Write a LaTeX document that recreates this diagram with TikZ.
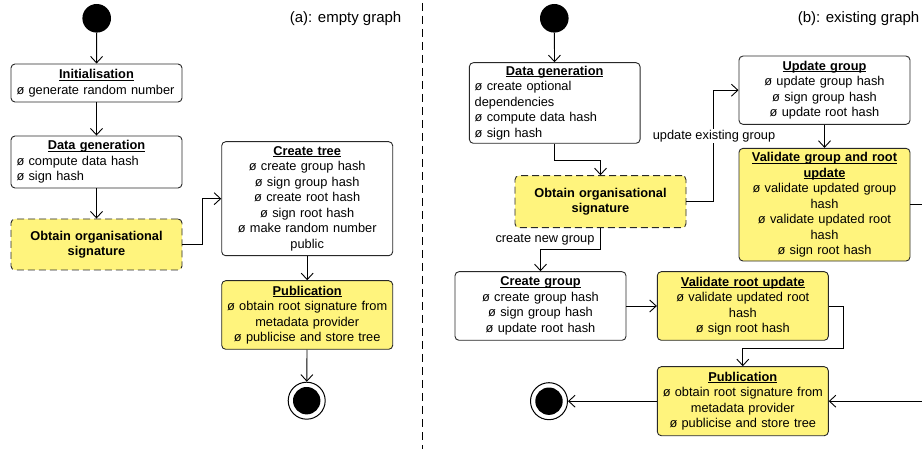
\documentclass[tikz,border=0pt]{standalone}
\usepackage{fontspec}
\setmainfont{Liberation Sans}
\usetikzlibrary{arrows.meta,calc}
\definecolor{yel}{RGB}{255,244,125}
\definecolor{bord}{RGB}{40,40,40}
\newsavebox\hdbox
\newcommand\hd[1]{\leavevmode\sbox\hdbox{\textbf{#1}}\rlap{\rule[-1.9pt]{\wd\hdbox}{0.9pt}}\usebox\hdbox}
\newcommand\cenline[1]{\hbox to\hsize{\hss#1\hss}}
\begin{document}
\begin{tikzpicture}[x=1pt,y=-1pt,
  box/.style={draw=bord, rounded corners=4pt, line width=0.9pt, minimum width=171pt,
    inner sep=0pt, text width=168pt, align=center, fill=white,
    font=\fontsize{12.8}{15.5}\selectfont},
  lbox/.style={box, text width=160pt, align=left},
  ybox/.style={box, fill=yel},
  dbox/.style={ybox, dash pattern=on 7pt off 4pt},
  arr/.style={draw, line width=0.9pt, -{Straight Barb[length=6.5pt,width=12pt,line width=0.9pt]}},
  lbl/.style={font=\fontsize{12.8}{15.5}\selectfont, fill=white, inner sep=1pt},
  ttl/.style={font=\fontsize{15}{18}\selectfont, inner sep=0pt},
  startdot/.style={circle, fill=black, minimum size=28.6pt, inner sep=0pt},
  enddot/.style={circle, draw=black, line width=1pt, fill=white, minimum size=37pt, inner sep=0pt}]
\useasboundingbox (0,0) rectangle (922,449);
\clip (0,0) rectangle (922,449);

% separator
\draw[line width=0.9pt, dash pattern=on 8pt off 5pt] (422.7,3) -- (422.7,449);

% titles
\node[ttl, anchor=east] (ta) at (401.5,18.3) {(a): empty graph};
\node[ttl, anchor=east] (tb) at (919.5,18.3) {(b): existing graph};

% ---------------- left panel
\node[startdot] (s1) at (96.7,18.3) {};
\node[lbox, minimum height=38pt] (init) at (96.5,83)
  {\cenline{\hd{Initialisation}}\\ø generate random number};
\node[lbox, minimum height=52pt] (dg1) at (96.5,162)
  {\cenline{\hd{Data generation}}\\ø compute data hash\\ø sign hash};
\node[dbox, minimum height=51pt] (obt1) at (96.5,244.5)
  {\textbf{Obtain organisational}\\\textbf{signature}};
\node[box, minimum height=114pt] (tree) at (307.2,198.7)
  {\hd{Create tree}\\ø create group hash\\ø sign group hash\\ø create root hash\\ø sign root hash\\ø make random number\\public};
\node[ybox, minimum height=68.6pt] (pub1) at (307.2,315)
  {\hd{Publication}\\ø obtain root signature from\\metadata provider\\ø publicise and store tree};
\node[enddot] (e1) at (306.7,400.7) {};
\fill (e1.center) circle (13.7pt);

\draw[arr] (s1) -- (init);
\draw[arr] (init) -- (dg1);
\draw[arr] (dg1) -- (obt1);
\draw[arr] (obt1.east) -- ++(20,0) |- (tree.west);
\draw[arr] (tree) -- (pub1);
\draw[arr] (pub1) -- (e1);

% ---------------- right panel
\node[startdot] (s2) at (554.3,18.3) {};
\node[lbox, minimum width=170.7pt, minimum height=80.6pt] (dg2) at (554.7,103)
  {\cenline{\hd{Data generation}}\\ø create optional\\dependencies\\ø compute data hash\\ø sign hash};
\node[dbox, minimum height=52pt] (obt2) at (600.5,201.7)
  {\textbf{Obtain organisational}\\\textbf{signature}};
\node[box, minimum height=68.3pt] (upd) at (824.5,90.2)
  {\hd{Update group}\\ø update group hash\\ø sign group hash\\ø update root hash};
\node[ybox, minimum height=112.7pt] (valg) at (824.5,204.7)
  {\hd{Validate group and root}\\\hd{update}\\ø validate updated group\\hash\\ø validate updated root\\hash\\ø sign root hash};
\node[box, minimum height=68.6pt] (cg) at (540.5,306)
  {\hd{Create group}\\ø create group hash\\ø sign group hash\\ø update root hash};
\node[ybox, minimum height=68.6pt] (valr) at (742.8,306)
  {\hd{Validate root update}\\ø validate updated root\\hash\\ø sign root hash};
\node[ybox, minimum height=69pt] (pub2) at (742.8,401.2)
  {\hd{Publication}\\ø obtain root signature from\\metadata provider\\ø publicise and store tree};
\node[enddot] (e2) at (549,401.2) {};
\fill (e2.center) circle (13.7pt);

\coordinate (rt) at (945,204.7);

\draw[arr] (s2) -- (dg2);
\draw[arr] (dg2.south) -- ++(0,16.7) -| (obt2.north);
\draw[arr] (obt2.east) -- ++(27.3,0) |- (upd.west);
\node[lbl] (l1) at (714,136) {update existing group};
\draw[arr] (upd) -- (valg);
\draw[arr] (valg.east) -- (rt) |- (pub2.east);
\draw[arr] (obt2.south) -- ++(0,21.3) -| (cg.north);
\node[lbl] (l2) at (545,240) {create new group};
\draw[arr] (cg) -- (valr);
\draw[arr] (valr.east) -- ++(15,0) -- ++(0,42.3) -| (pub2.north);
\draw[arr] (pub2) -- (e2);
\end{tikzpicture}
\end{document}
